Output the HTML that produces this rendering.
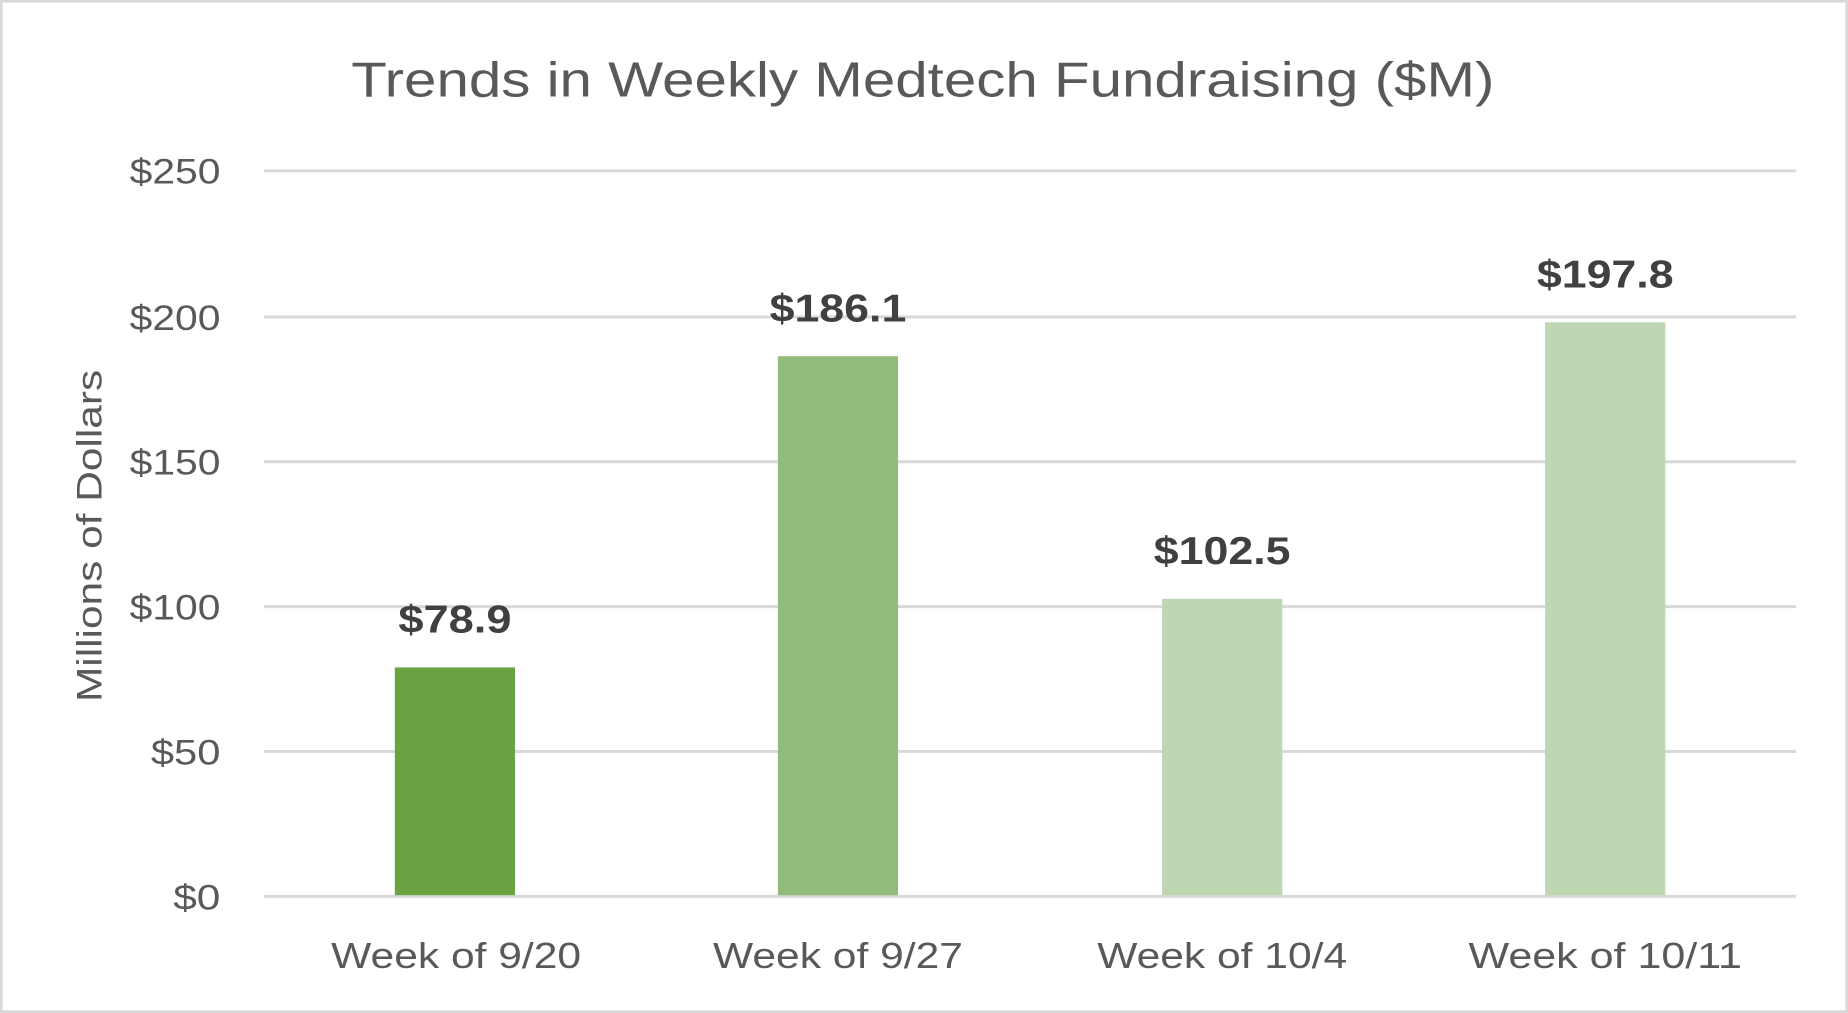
<!DOCTYPE html>
<html><head><meta charset="utf-8"><style>
html,body{margin:0;padding:0;background:#fff;}
svg{display:block;}
text{font-family:"Liberation Sans",sans-serif;fill:#595959;}
</style></head><body>
<svg width="1848" height="1013" viewBox="0 0 1568 860" preserveAspectRatio="none">
<rect x="1" y="1" width="1566" height="858" fill="#fff" stroke="#d9d9d9" stroke-width="2.5"/>
<text x="783" y="82" font-size="42" text-anchor="middle" textLength="970" lengthAdjust="spacingAndGlyphs">Trends in Weekly Medtech Fundraising ($M)</text>
<g stroke="#d9d9d9" stroke-width="2.5">
<line x1="224" x2="1524" y1="145" y2="145"/>
<line x1="224" x2="1524" y1="269" y2="269"/>
<line x1="224" x2="1524" y1="392" y2="392"/>
<line x1="224" x2="1524" y1="515" y2="515"/>
<line x1="224" x2="1524" y1="638" y2="638"/>
<line x1="224" x2="1524" y1="761" y2="761"/>
</g>
<g font-size="30" text-anchor="end">
<text x="187" y="156" textLength="77" lengthAdjust="spacingAndGlyphs">$250</text>
<text x="187" y="280" textLength="77" lengthAdjust="spacingAndGlyphs">$200</text>
<text x="187" y="403" textLength="77" lengthAdjust="spacingAndGlyphs">$150</text>
<text x="187" y="526" textLength="77" lengthAdjust="spacingAndGlyphs">$100</text>
<text x="187" y="649" textLength="59" lengthAdjust="spacingAndGlyphs">$50</text>
<text x="187" y="772" textLength="40" lengthAdjust="spacingAndGlyphs">$0</text>
</g>
<text transform="translate(86,455) rotate(-90)" font-size="30" text-anchor="middle" textLength="282" lengthAdjust="spacingAndGlyphs">Millions of Dollars</text>
<rect x="335" y="566.6" width="102" height="193.4" fill="#6aa342"/>
<rect x="660" y="302.4" width="102" height="457.6" fill="#93bb7b"/>
<rect x="986" y="508.4" width="102" height="251.6" fill="#bed6b2"/>
<rect x="1311" y="273.6" width="102" height="486.4" fill="#bed6b2"/>
<g font-size="33" font-weight="bold" text-anchor="middle" style="fill:#404040">
<text x="386" y="537" textLength="96" lengthAdjust="spacingAndGlyphs" style="fill:#404040">$78.9</text>
<text x="711" y="273" textLength="116" lengthAdjust="spacingAndGlyphs" style="fill:#404040">$186.1</text>
<text x="1037" y="479" textLength="116" lengthAdjust="spacingAndGlyphs" style="fill:#404040">$102.5</text>
<text x="1362" y="244" textLength="116" lengthAdjust="spacingAndGlyphs" style="fill:#404040">$197.8</text>
</g>
<g font-size="31" text-anchor="middle">
<text x="387" y="822" textLength="212" lengthAdjust="spacingAndGlyphs">Week of 9/20</text>
<text x="711" y="822" textLength="212" lengthAdjust="spacingAndGlyphs">Week of 9/27</text>
<text x="1037" y="822" textLength="212" lengthAdjust="spacingAndGlyphs">Week of 10/4</text>
<text x="1362" y="822" textLength="232" lengthAdjust="spacingAndGlyphs">Week of 10/11</text>
</g>
</svg>
</body></html>
